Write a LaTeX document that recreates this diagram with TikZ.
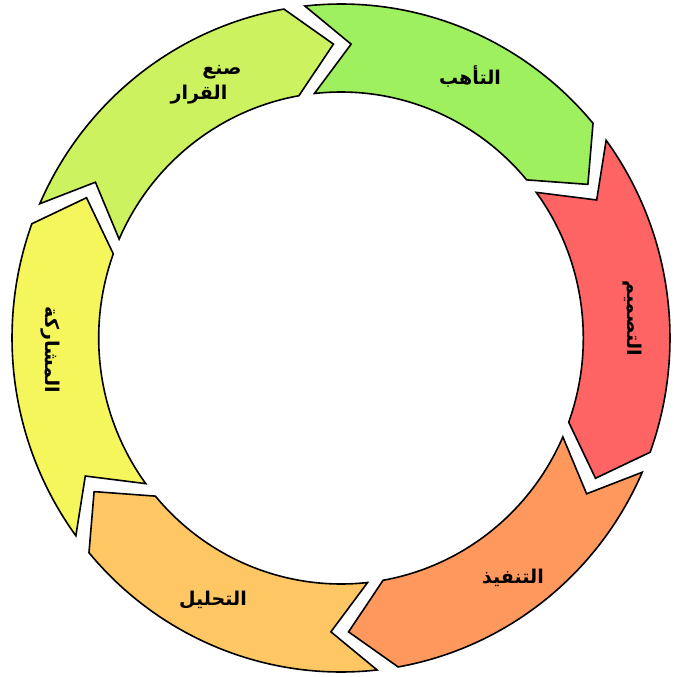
\documentclass[tikz,border=0pt]{standalone}
\usepackage{fontspec}
\newfontfamily\arabicfont[Script=Arabic]{DejaVu Sans}
\TeXXeTstate=1
\definecolor{cGreen}{RGB}{158,240,94}
\definecolor{cRed}{RGB}{255,100,100}
\definecolor{cOrange}{RGB}{255,152,92}
\definecolor{cLOrange}{RGB}{255,198,100}
\definecolor{cYellow}{RGB}{245,245,92}
\definecolor{cYGreen}{RGB}{204,242,96}
\def\Ro{334}
\def\Ri{246}
\def\Rm{294}
% #1 colour, #2 tail-corner angle, #3 head-corner angle
\newcommand\cycseg[3]{%
  \begin{scope}[shift={(341,-338)}, xscale=0.985]
    \path[seg, fill=#1] (#2:\Ro) arc[start angle=#2, end angle=#3, radius=\Ro]
      -- ({#3-8.5}:\Rm) -- (#3:\Ri)
      arc[start angle=#3, end angle=#2, radius=\Ri]
      -- ({#2-8.3}:\Rm) -- cycle;
  \end{scope}}
\begin{document}
\begin{tikzpicture}[x=1pt,y=1pt,
  seg/.style={draw=black, line width=1.6pt, line join=miter},
  lbl/.style={font=\arabicfont\bfseries\fontsize{19}{22}\selectfont, inner sep=0pt, text=black}]
\useasboundingbox (0,-677) rectangle (673,0);
\fill[white] (0,-677) rectangle (673,0);
\cycseg{cGreen}{96.3}{40}
\cycseg{cRed}{36.3}{-20}
\cycseg{cOrange}{-23.7}{-80}
\cycseg{cLOrange}{-83.7}{-140}
\cycseg{cYellow}{-143.7}{-200}
\cycseg{cYGreen}{156.3}{100}
\node[lbl] (l1) at (470,-76) {\beginR التأهب\endR};
\node[lbl, rotate=-90] (l2) at (632,-318) {\beginR التصميم\endR};
\node[lbl] (l3) at (513,-578) {\beginR التنفيذ\endR};
\node[lbl] (l4) at (213,-600) {\beginR التحليل\endR};
\node[lbl, rotate=-90] (l5) at (50,-350) {\beginR المشاركة\endR};
\node[lbl] (l6a) at (222,-72) {\beginR صنع\endR};
\node[lbl] (l6b) at (199,-95) {\beginR القرار\endR};
\end{tikzpicture}
\end{document}
